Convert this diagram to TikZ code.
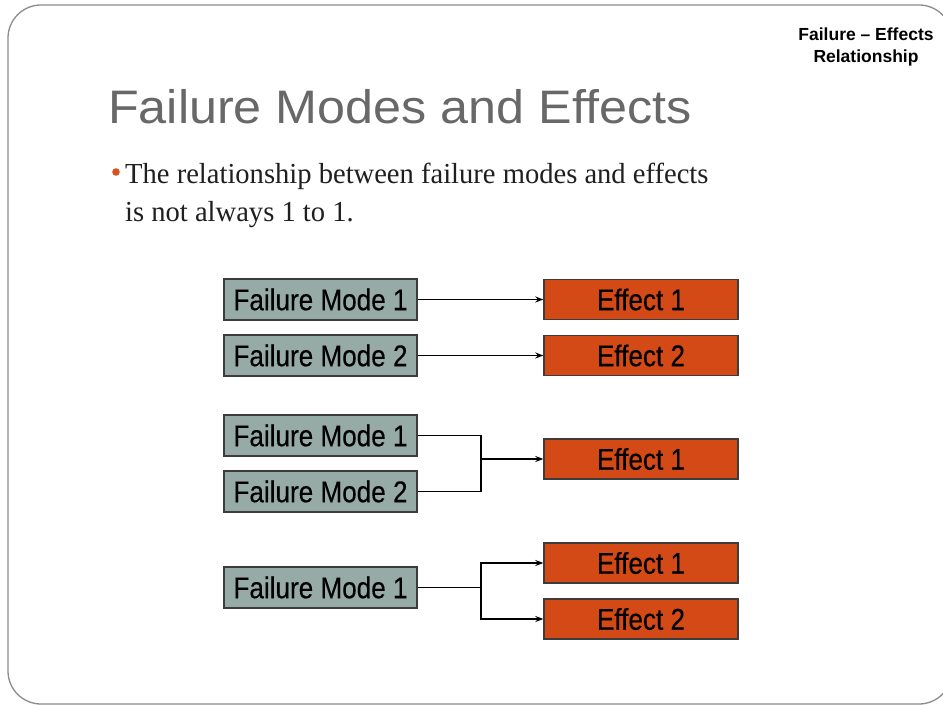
\documentclass[tikz,border=0pt]{standalone}
\usepackage{fontspec}
\setmainfont{Liberation Serif}
\newfontfamily\slidesans{Liberation Sans}
\newfontfamily\boxsans{Liberation Sans}[FakeBold=0.35]
\usetikzlibrary{arrows.meta}
\definecolor{framegray}{RGB}{140,140,140}
\definecolor{titlegray}{RGB}{104,104,104}
\definecolor{modefill}{RGB}{150,170,166}
\definecolor{effectfill}{RGB}{211,74,22}
\definecolor{boxline}{RGB}{60,60,60}
\definecolor{bulletorange}{RGB}{214,84,30}
\newcommand{\boxlabel}[1]{\scalebox{0.87}[1]{\boxsans\fontsize{30}{34}\selectfont #1}}
\tikzset{
  modebox/.style={draw=boxline, line width=1.4pt, fill=modefill, minimum width=193pt,
    minimum height=41pt, inner sep=0pt, text=black},
  effectbox/.style={draw=boxline, line width=1.4pt, fill=effectfill, minimum width=194pt,
    minimum height=40pt, inner sep=0pt, text=black},
  link/.style={draw=black, line width=1.3pt},
  linkarrow/.style={link, -{Stealth[length=8pt,width=6pt]}}
}
\begin{document}
\begin{tikzpicture}[x=1pt,y=-1pt]
\useasboundingbox (0,0) rectangle (943,706);
\fill[white] (0,0) rectangle (943,706);
% slide frame
\draw[framegray, line width=1.3pt, rounded corners=33pt] (8,5) rectangle (952,704);

% header
\node[align=center, anchor=center, inner sep=0pt, font=\slidesans\bfseries\fontsize{17.5}{22}\selectfont]
  (tag) at (866,47) {Failure – Effects\\Relationship};
\node[anchor=base west, inner sep=0pt, text=titlegray]
  (title) at (108,124) {\scalebox{1.07}[1]{\slidesans\fontsize{47}{50}\selectfont Failure Modes and Effects}};

% bullet text
\fill[bulletorange] (116,172) circle (3.8pt);
\node[anchor=base west, inner sep=0pt, text=black!88] (line1) at (125,184)
  {\scalebox{0.985}[1]{\fontsize{29}{32}\selectfont The relationship between failure modes and effects}};
\node[anchor=base west, inner sep=0pt, text=black!88] (line2) at (125,222)
  {\scalebox{0.985}[1]{\fontsize{29}{32}\selectfont is not always 1 to 1.}};

% one to one
\node[modebox] (a1) at (320.5,299.5) {\boxlabel{Failure Mode 1}};
\node[modebox] (a2) at (320.5,355.5) {\boxlabel{Failure Mode 2}};
\node[effectbox] (ae1) at (641,299.5) {\boxlabel{Effect 1}};
\node[effectbox] (ae2) at (641,355.5) {\boxlabel{Effect 2}};
\draw[linkarrow] (a1.east) -- (ae1.west);
\draw[linkarrow] (a2.east) -- (ae2.west);

% many to one
\node[modebox] (b1) at (320.5,435.5) {\boxlabel{Failure Mode 1}};
\node[modebox] (b2) at (320.5,491.5) {\boxlabel{Failure Mode 2}};
\node[effectbox] (be1) at (641,459) {\boxlabel{Effect 1}};
\coordinate (bj) at (481,459);
\draw[link] (b1.east) -| (bj);
\draw[link] (b2.east) -| (bj);
\draw[linkarrow] (bj) -- (be1.west);

% one to many
\node[modebox] (c1) at (320.5,587.5) {\boxlabel{Failure Mode 1}};
\node[effectbox] (ce1) at (641,563) {\boxlabel{Effect 1}};
\node[effectbox] (ce2) at (641,619) {\boxlabel{Effect 2}};
\coordinate (cj) at (481,587.5);
\draw[link] (c1.east) -- (cj);
\draw[linkarrow] (cj) |- (ce1.west);
\draw[linkarrow] (cj) |- (ce2.west);
\end{tikzpicture}
\end{document}
